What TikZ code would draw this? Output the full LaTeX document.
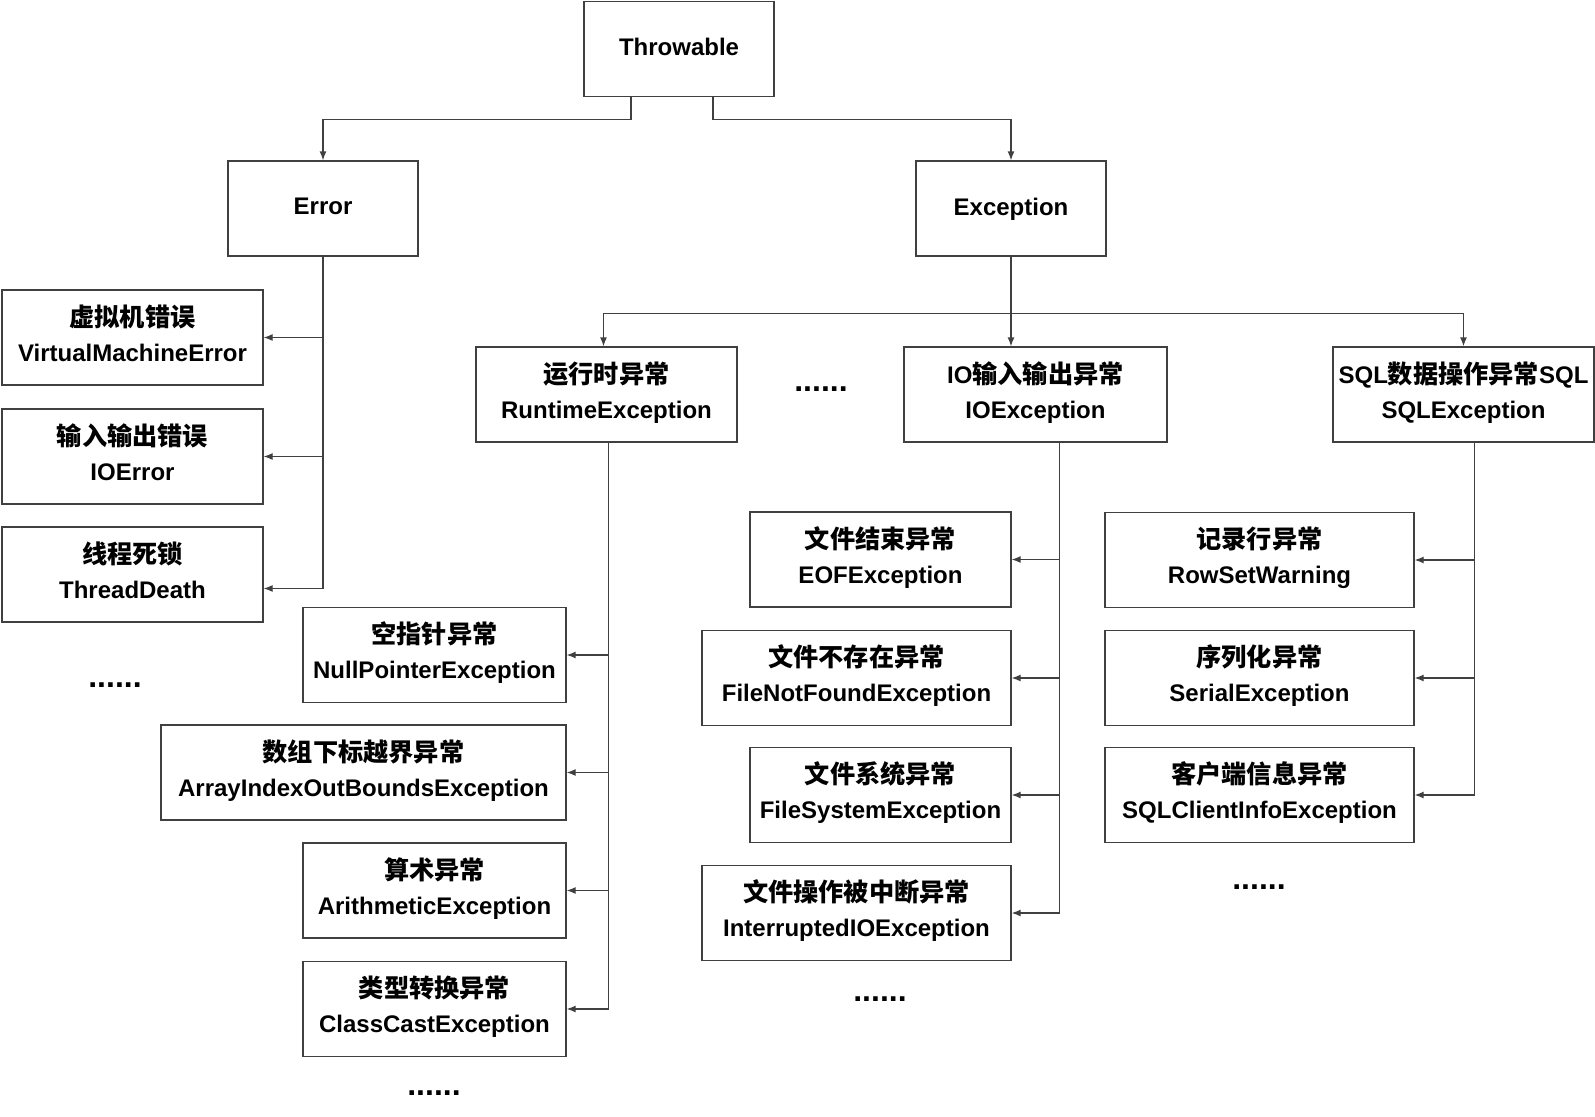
\documentclass[tikz,border=0pt]{standalone}
\usepackage{fontspec}
\setmainfont{Liberation Sans}
\newfontfamily\cjk{Noto Sans CJK SC}[Scale=1.05]
\usetikzlibrary{arrows.meta}

\begin{document}
\begin{tikzpicture}[x=1pt, y=-1pt,
    box/.style={draw=black!75, line width=1.3pt, minimum height=95pt, inner sep=0pt,
      align=center, text depth=9pt, font=\fontsize{24}{35}\selectfont\bfseries},
    single/.style={box, text depth=4pt},
    link/.style={black!75, line width=1.3pt},
    arr/.style={link, -{Latex[length=9pt, width=7pt]}},
    more/.style={font=\fontsize{32}{32}\selectfont\bfseries}]
    \useasboundingbox (0,0) rectangle (1595,1116);

    % Root and its two branches
    \node[single, minimum width=190pt] (thr) at (679,49) {Throwable};
    \node[single, minimum width=190pt] (err) at (323,208.5) {Error};
    \node[single, minimum width=190pt] (exc) at (1011,208.5) {Exception};

    % Error subclasses
    \node[box, minimum width=261pt] (vme) at (132.5,337.5) {{\cjk 虚拟机错误}\\VirtualMachineError};
    \node[box, minimum width=261pt] (ioe) at (132.5,456.5) {{\cjk 输入输出错误}\\IOError};
    \node[box, minimum width=261pt] (td) at (132.5,574.5) {{\cjk 线程死锁}\\ThreadDeath};
    \node[more] (dots1) at (115,685) {......};

    % Exception subclasses
    \node[box, minimum width=261pt] (rte) at (606.5,394.5) {{\cjk 运行时异常}\\RuntimeException};
    \node[box, minimum width=263pt] (io) at (1035.5,394.5) {IO{\cjk 输入输出异常}\\IOException};
    \node[box, minimum width=261pt] (sql) at (1463.5,394.5) {SQL{\cjk 数据操作异常}SQL\\SQLException};
    \node[more] (dots2) at (821,389) {......};

    % RuntimeException subclasses
    \node[box, minimum width=263pt] (npe) at (434.5,655) {{\cjk 空指针异常}\\NullPointerException};
    \node[box, minimum width=405pt] (aie) at (363.5,772.5) {{\cjk 数组下标越界异常}\\ArrayIndexOutBoundsException};
    \node[box, minimum width=263pt] (ae) at (434.5,890.5) {{\cjk 算术异常}\\ArithmeticException};
    \node[box, minimum width=263pt] (cce) at (434.5,1009) {{\cjk 类型转换异常}\\ClassCastException};
    \node[more] (dots3) at (434,1093) {......};

    % IOException subclasses
    \node[box, minimum width=261pt] (eof) at (880.5,559.5) {{\cjk 文件结束异常}\\EOFException};
    \node[box, minimum width=309pt] (fnf) at (856.5,678) {{\cjk 文件不存在异常}\\FileNotFoundException};
    \node[box, minimum width=261pt] (fse) at (880.5,795) {{\cjk 文件系统异常}\\FileSystemException};
    \node[box, minimum width=309pt] (iio) at (856.5,913) {{\cjk 文件操作被中断异常}\\InterruptedIOException};
    \node[more] (dots4) at (880,999) {......};

    % SQLException subclasses
    \node[box, minimum width=309pt] (rsw) at (1259.5,560) {{\cjk 记录行异常}\\RowSetWarning};
    \node[box, minimum width=309pt] (ser) at (1259.5,678) {{\cjk 序列化异常}\\SerialException};
    \node[box, minimum width=309pt] (sci) at (1259.5,795) {{\cjk 客户端信息异常}\\SQLClientInfoException};
    \node[more] (dots5) at (1259,887) {......};

    % Connectors
    \draw[arr] ([xshift=-48pt]thr.south) -- ++(0,22) -| (err.north);
    \draw[arr] ([xshift=34pt]thr.south) -- ++(0,22) -| (exc.north);

    \draw[arr] (err.south) |- (vme.east);
    \draw[arr] (err.south) |- (ioe.east);
    \draw[arr] (err.south) |- ([yshift=-14pt]td.east);

    \draw[arr] (exc.south) -- (exc.south |- io.north);
    \draw[arr] (exc.south) -- ++(0,57) -| ([xshift=-3pt]rte.north);
    \draw[arr] (exc.south) -- ++(0,57) -| (sql.north);

    \draw[arr] ([xshift=2pt]rte.south) |- (npe.east);
    \draw[arr] ([xshift=2pt]rte.south) |- (aie.east);
    \draw[arr] ([xshift=2pt]rte.south) |- (ae.east);
    \draw[arr] ([xshift=2pt]rte.south) |- (cce.east);

    \draw[arr] ([xshift=24pt]io.south) |- (eof.east);
    \draw[arr] ([xshift=24pt]io.south) |- (fnf.east);
    \draw[arr] ([xshift=24pt]io.south) |- (fse.east);
    \draw[arr] ([xshift=24pt]io.south) |- (iio.east);

    \draw[arr] ([xshift=11pt]sql.south) |- (rsw.east);
    \draw[arr] ([xshift=11pt]sql.south) |- (ser.east);
    \draw[arr] ([xshift=11pt]sql.south) |- (sci.east);
\end{tikzpicture}
\end{document}
